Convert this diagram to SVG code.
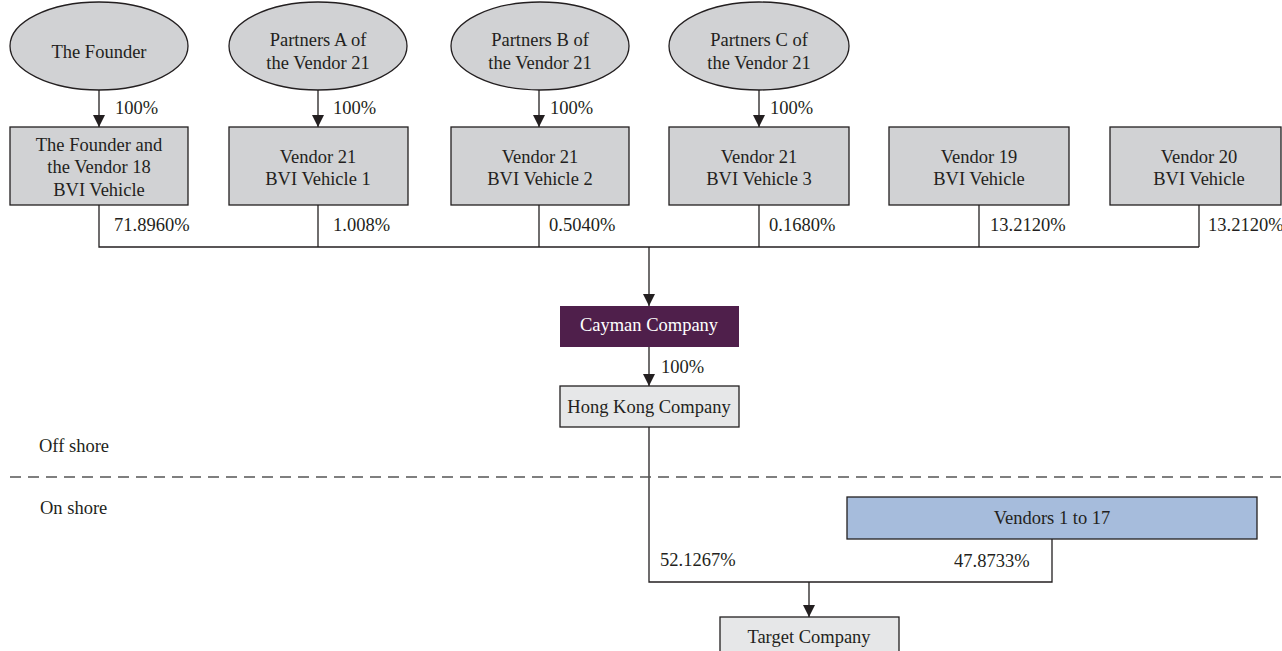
<svg xmlns="http://www.w3.org/2000/svg" width="1282" height="651" viewBox="0 0 1282 651">
<defs>
<marker id="ah" markerUnits="userSpaceOnUse" markerWidth="12" markerHeight="12" viewBox="0 0 12 12" refX="12" refY="6" orient="auto">
<path d="M0,0 L12,6 L0,12 Z" fill="#231f20"/>
</marker>
<style>
text{font-family:"Liberation Serif","Times New Roman",serif;font-size:18.5px;fill:#231f20}
.c{text-anchor:middle}
.g{fill:#d1d2d4;stroke:#231f20;stroke-width:1.3}
.l{fill:#e6e7e8;stroke:#231f20;stroke-width:1.3}
.ln{fill:none;stroke:#231f20;stroke-width:1.3}
.ar{fill:none;stroke:#231f20;stroke-width:1.3;marker-end:url(#ah)}
</style>
</defs>
<rect width="1282" height="651" fill="#fff"/>

<g id="connectors">
<line class="ar" x1="99" y1="90" x2="99" y2="127"/>
<line class="ar" x1="318" y1="90" x2="318" y2="127"/>
<line class="ar" x1="539" y1="90" x2="539" y2="127"/>
<line class="ar" x1="759" y1="90" x2="759" y2="127"/>
<polyline class="ln" points="99,205 99,247 1199,247"/>
<line class="ln" x1="318" y1="205" x2="318" y2="247"/>
<line class="ln" x1="539" y1="205" x2="539" y2="247"/>
<line class="ln" x1="759" y1="205" x2="759" y2="247"/>
<line class="ln" x1="979" y1="205" x2="979" y2="247"/>
<line class="ln" x1="1199" y1="205" x2="1199" y2="247"/>
<line class="ar" x1="649" y1="247" x2="649" y2="306"/>
<line class="ar" x1="649" y1="347" x2="649" y2="386"/>
<polyline class="ln" points="649,427 649,582 1052,582 1052,539"/>
<line class="ar" x1="809" y1="582" x2="809" y2="617"/>
<text x="115" y="114">100%</text>
<text x="333" y="114">100%</text>
<text x="550" y="114">100%</text>
<text x="770" y="114">100%</text>
<text x="114" y="231">71.8960%</text>
<text x="333" y="231">1.008%</text>
<text x="549" y="231">0.5040%</text>
<text x="769" y="231">0.1680%</text>
<text x="990" y="231">13.2120%</text>
<text x="1208" y="231">13.2120%</text>
<text x="661" y="373">100%</text>
<text x="660" y="566">52.1267%</text>
<text x="954" y="567">47.8733%</text>
</g>

<g id="divider">
<line x1="10" y1="477" x2="1282" y2="477" stroke="#555" stroke-width="1.5" stroke-dasharray="11,7"/>
<text x="39" y="452">Off shore</text>
<text x="40" y="514">On shore</text>
</g>

<g id="founder">
<ellipse class="g" cx="99" cy="46" rx="89" ry="44"/>
<text class="c" x="99" y="58">The Founder</text>
</g>
<g id="partnersA">
<ellipse class="g" cx="318" cy="46" rx="89" ry="44"/>
<text class="c" x="318" y="46">Partners A of</text>
<text class="c" x="318" y="69">the Vendor 21</text>
</g>
<g id="partnersB">
<ellipse class="g" cx="540" cy="46" rx="89" ry="44"/>
<text class="c" x="540" y="46">Partners B of</text>
<text class="c" x="540" y="69">the Vendor 21</text>
</g>
<g id="partnersC">
<ellipse class="g" cx="759" cy="46" rx="90" ry="44"/>
<text class="c" x="759" y="46">Partners C of</text>
<text class="c" x="759" y="69">the Vendor 21</text>
</g>

<g id="vendor18">
<rect class="g" x="10" y="127" width="178" height="78"/>
<text class="c" x="99" y="151">The Founder and</text>
<text class="c" x="99" y="173">the Vendor 18</text>
<text class="c" x="99" y="196">BVI Vehicle</text>
</g>
<g id="v21b1">
<rect class="g" x="229" y="127" width="179" height="78"/>
<text class="c" x="318" y="163">Vendor 21</text>
<text class="c" x="318" y="185">BVI Vehicle 1</text>
</g>
<g id="v21b2">
<rect class="g" x="451" y="127" width="178" height="78"/>
<text class="c" x="540" y="163">Vendor 21</text>
<text class="c" x="540" y="185">BVI Vehicle 2</text>
</g>
<g id="v21b3">
<rect class="g" x="669" y="127" width="180" height="78"/>
<text class="c" x="759" y="163">Vendor 21</text>
<text class="c" x="759" y="185">BVI Vehicle 3</text>
</g>
<g id="v19">
<rect class="g" x="889" y="127" width="180" height="78"/>
<text class="c" x="979" y="163">Vendor 19</text>
<text class="c" x="979" y="185">BVI Vehicle</text>
</g>
<g id="v20">
<rect class="g" x="1110" y="127" width="171" height="78"/>
<text class="c" x="1199" y="163">Vendor 20</text>
<text class="c" x="1199" y="185">BVI Vehicle</text>
</g>

<g id="cayman">
<rect x="560" y="306" width="179" height="41" fill="#4f1f4b"/>
<text class="c" x="649" y="331" style="fill:#fff">Cayman Company</text>
</g>
<g id="hongkong">
<rect class="l" x="560" y="386" width="179" height="41"/>
<text class="c" x="649" y="413">Hong Kong Company</text>
</g>
<g id="vendors1to17">
<rect x="847" y="497" width="410" height="42" fill="#a6bcdc" stroke="#231f20" stroke-width="1.3"/>
<text class="c" x="1052" y="524">Vendors 1 to 17</text>
</g>
<g id="target">
<rect class="l" x="720" y="617" width="179" height="40"/>
<text class="c" x="809" y="643">Target Company</text>
</g>
</svg>
